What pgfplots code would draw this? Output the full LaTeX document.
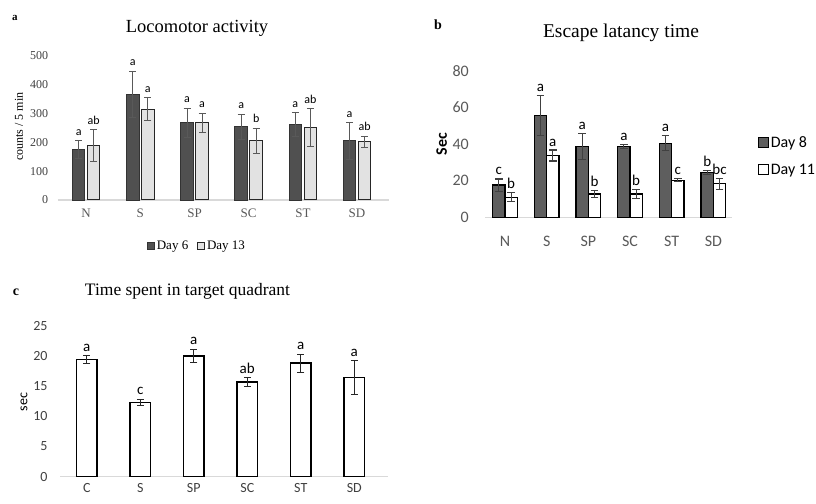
\documentclass[border=0pt]{standalone}
\usepackage{pgfplots}
\pgfplotsset{compat=1.18}
\usepackage{pgfplotstable}
\usepackage{fontspec}
\setmainfont{Liberation Serif}
\newfontfamily\calfont{Carlito}

\definecolor{dkA}{HTML}{505050}
\definecolor{ltA}{HTML}{E2E2E2}
\definecolor{dkB}{HTML}{5E5E5E}
\definecolor{axgray}{HTML}{D9D9D9}
\definecolor{txgray}{HTML}{595959}
\definecolor{txdark}{HTML}{404040}

\pgfplotstableread{
x v6 e6 l6 v13 e13 l13
0 175 30 a 189 55 ab
1 366 80 a 315 40 a
2 268 50 a 268 33 a
3 254 43 a 205 43 b
4 261 41 a 251 66 ab
5 205 63 a 201 20 ab
}\tabA

\pgfplotstableread{
x v8 e8 l8 v11 e11 l11
0 17.6 3.3 c 10.9 2.5 b
1 55.5 11 a 33.7 3.0 a
2 38.7 7.0 a 12.7 1.7 b
3 38.6 1.3 a 12.7 2.6 b
4 40.4 4.0 a 20.2 0.9 c
5 24.5 1.2 b 18.3 3.0 bc
}\tabB

\pgfplotstableread{
x v e l
0 19.4 0.6 a
1 12.3 0.5 c
2 20.0 1.1 a
3 15.7 0.7 ab
4 18.8 1.5 a
5 16.4 2.8 a
}\tabC

\pgfplotsset{
  common/.style={
    scale only axis, clip=false,
    /pgf/number format/assume math mode=true,
    axis x line*=bottom, axis y line*=left,
    x axis line style={draw=axgray, line width=1.3pt, -},
    y axis line style={draw=none},
    major tick length=0pt, tick style={draw=none},
    xtick={0,...,5},
    ymin=0,
  },
  labplot/.style={draw=none, mark=none, forget plot, nodes near coords,
    point meta=explicit symbolic,
    every node near coord/.append style={anchor=base, inner sep=0pt, #1}},
}

\begin{document}
\begin{tikzpicture}[x=1pt,y=1pt]
\path[use as bounding box] (0,0) rectangle (816,503);

% ---------- panel a ----------
\begin{axis}[common,
  at={(58pt,303pt)}, anchor=south west,
  width=331pt, height=144.3pt,
  xmin=-0.52, xmax=5.59, ymax=500, ytick={0,100,...,500},
  xticklabels={N,S,SP,SC,ST,SD},
  yticklabel style={font=\fontsize{12}{14}\selectfont, text=txdark, inner sep=0pt, anchor=east, xshift=-9.7pt},
  xticklabel style={font=\fontsize{13}{15}\selectfont, text=txgray, inner sep=0pt, anchor=north, yshift=-9pt},
  ylabel={counts / 5 min},
  ylabel style={font=\fontsize{12}{14}\selectfont, text=black, at={(axis description cs:-0.118,0.508)}, anchor=center},
  legend columns=2,
  legend style={at={(0.42,-0.317)}, anchor=center, draw=none, fill=none, inner sep=0pt,
    font=\fontsize{13}{15}\selectfont, /tikz/every even column/.append style={column sep=7pt}},
]
\addplot[ybar, bar width=12.5pt, bar shift=0pt, fill=dkA, draw=black!80, line width=0.9pt,
  legend image code/.code={\draw[fill=dkA, draw=black!80, line width=0.8pt] (0pt,-3.5pt) rectangle (7pt,3.5pt);},
  error bars/.cd, y dir=both, y explicit,
  error bar style={draw=txgray, line width=1pt},
  error mark options={rotate=90, draw=txgray, line width=1pt, mark size=3.5pt}]
  table[x expr=\thisrow{x}-0.1385, y=v6, y error=e6] {\tabA};
\addlegendentry{Day 6}
\addplot[ybar, bar width=12.5pt, bar shift=0pt, fill=ltA, draw=black!85, line width=1pt,
  legend image code/.code={\draw[fill=ltA, draw=black!85, line width=0.8pt] (0pt,-3.5pt) rectangle (7pt,3.5pt);},
  error bars/.cd, y dir=both, y explicit,
  error bar style={draw=txgray, line width=1pt},
  error mark options={rotate=90, draw=txgray, line width=1pt, mark size=3.5pt}]
  table[x expr=\thisrow{x}+0.1385, y=v13, y error=e13] {\tabA};
\addlegendentry{Day 13}
\addplot[labplot={yshift=5.5pt, font=\calfont\fontsize{12}{14}\selectfont}]
  table[x expr=\thisrow{x}-0.1385, y expr=\thisrow{v6}+\thisrow{e6}, meta=l6] {\tabA};
\addplot[labplot={yshift=5.5pt, font=\calfont\fontsize{12}{14}\selectfont}]
  table[x expr=\thisrow{x}+0.1385, y expr=\thisrow{v13}+\thisrow{e13}, meta=l13] {\tabA};
\end{axis}

% ---------- panel b ----------
\begin{axis}[common,
  at={(485pt,285.7pt)}, anchor=south west,
  width=246.7pt, height=146.7pt,
  xmin=-0.48, xmax=5.44, ymax=80, ytick={0,20,...,80},
  xticklabels={N,S,SP,SC,ST,SD},
  yticklabel style={font=\calfont\fontsize{16}{19}\selectfont, text=txgray, inner sep=0pt, anchor=east, xshift=-16pt},
  xticklabel style={font=\calfont\fontsize{16}{19}\selectfont, text=txgray, inner sep=0pt, anchor=north, yshift=-18.5pt},
  ylabel={\bfseries Sec},
  ylabel style={font=\calfont\fontsize{16}{19}\selectfont, text=black, at={(axis description cs:-0.1755,0.5)}, anchor=center},
  legend cell align=left,
  legend style={at={(1.105,0.418)}, anchor=west, draw=none, fill=none, inner sep=0pt,
    font=\calfont\fontsize{16}{19}\selectfont, row sep=11pt},
]
\addplot[ybar, bar width=12.3pt, bar shift=0pt, fill=dkB, draw=black, line width=1.2pt,
  legend image code/.code={\draw[fill=dkB, draw=black, line width=1pt] (0pt,-5pt) rectangle (10pt,5pt);},
  error bars/.cd, y dir=both, y explicit,
  error bar style={draw=txdark, line width=1.1pt},
  error mark options={rotate=90, draw=txdark, line width=1.1pt, mark size=3.8pt}]
  table[x expr=\thisrow{x}-0.1476, y=v8, y error=e8] {\tabB};
\addlegendentry{Day 8}
\addplot[ybar, bar width=12.3pt, bar shift=0pt, fill=white, draw=black, line width=1.2pt,
  legend image code/.code={\draw[fill=white, draw=black, line width=1pt] (0pt,-5pt) rectangle (10pt,5pt);},
  error bars/.cd, y dir=both, y explicit,
  error bar style={draw=txdark, line width=1.1pt},
  error mark options={rotate=90, draw=txdark, line width=1.1pt, mark size=3.8pt}]
  table[x expr=\thisrow{x}+0.1476, y=v11, y error=e11] {\tabB};
\addlegendentry{Day 11}
\addplot[labplot={yshift=4pt, font=\calfont\fontsize{15}{18}\selectfont}]
  table[x expr=\thisrow{x}-0.1476, y expr=\thisrow{v8}+\thisrow{e8}, meta=l8] {\tabB};
\addplot[labplot={yshift=4pt, font=\calfont\fontsize{15}{18}\selectfont}]
  table[x expr=\thisrow{x}+0.1476, y expr=\thisrow{v11}+\thisrow{e11}, meta=l11] {\tabB};
\end{axis}

% ---------- panel c ----------
\begin{axis}[common,
  at={(60pt,26.3pt)}, anchor=south west,
  width=328pt, height=151pt,
  xmin=-0.5, xmax=5.63, ymax=25, ytick={0,5,...,25},
  xticklabels={C,S,SP,SC,ST,SD},
  yticklabel style={font=\calfont\fontsize{14}{17}\selectfont, text=txdark, inner sep=0pt, anchor=east, xshift=-12.3pt},
  xticklabel style={font=\calfont\fontsize{14}{17}\selectfont, text=txdark, inner sep=0pt, anchor=north, yshift=-7pt},
  ylabel={sec},
  ylabel style={font=\calfont\fontsize{14}{17}\selectfont, text=black, at={(axis description cs:-0.11,0.495)}, anchor=center},
]
\addplot[ybar, bar width=20.7pt, bar shift=0pt, fill=white, draw=black, line width=1.6pt,
  error bars/.cd, y dir=both, y explicit,
  error bar style={draw=black!85, line width=1.1pt},
  error mark options={rotate=90, draw=black!85, line width=1.1pt, mark size=3.5pt}]
  table[x=x, y=v, y error=e] {\tabC};
\addplot[labplot={yshift=4.5pt, font=\calfont\fontsize{15}{18}\selectfont}]
  table[x=x, y expr=\thisrow{v}+\thisrow{e}, meta=l] {\tabC};
\end{axis}

% ---------- titles and panel letters ----------
\node[font=\fontsize{18.5}{22}\selectfont] at (197,475) {Locomotor activity};
\node[font=\fontsize{19.5}{23}\selectfont] at (621,470) {Escape latancy time};
\node[font=\fontsize{17.5}{21}\selectfont] at (187.5,211.3) {Time spent in target quadrant};
\node[font=\bfseries\fontsize{11}{13}\selectfont] at (15,485) {a};
\node[font=\bfseries\fontsize{14}{16}\selectfont] at (438,478) {b};
\node[font=\bfseries\fontsize{14}{16}\selectfont] at (16,211) {c};
\end{tikzpicture}
\end{document}
